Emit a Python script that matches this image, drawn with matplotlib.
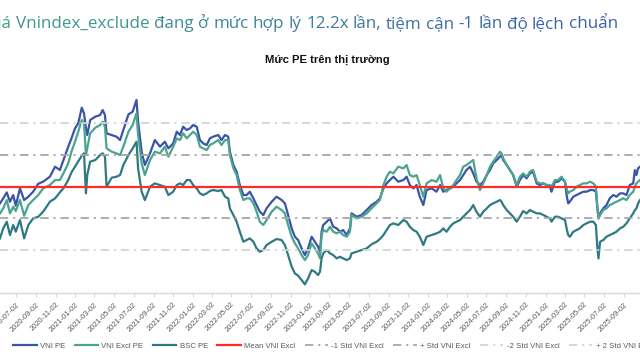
import matplotlib
matplotlib.use("Agg")
import matplotlib.pyplot as plt
import matplotlib.dates as mdates
import pandas as pd
import numpy as np
from matplotlib import font_manager as fm

# ---------------- data ----------------
DATES = [
    "2020-05-13", "2020-05-23", "2020-06-03", "2020-06-13", "2020-06-23", "2020-07-01", "2020-07-14", "2020-07-27",
    "2020-08-09", "2020-08-24", "2020-09-09", "2020-09-24", "2020-10-15", "2020-10-31", "2020-11-15", "2020-11-26",
    "2020-12-11", "2020-12-21", "2021-01-01", "2021-01-11", "2021-01-22", "2021-01-29", "2021-02-04", "2021-02-08",
    "2021-02-17", "2021-03-05", "2021-03-20", "2021-03-28", "2021-04-04", "2021-04-09", "2021-04-25", "2021-05-10",
    "2021-05-21", "2021-05-31", "2021-06-16", "2021-06-29", "2021-07-11", "2021-07-16", "2021-07-27", "2021-08-06",
    "2021-08-22", "2021-09-06", "2021-09-22",
    "2021-10-07", "2021-10-18", "2021-11-02", "2021-11-13", "2021-11-23", "2021-12-03", "2021-12-14", "2021-12-24",
    "2022-01-03", "2022-01-14", "2022-01-24", "2022-02-03", "2022-02-14", "2022-02-24", "2022-03-06", "2022-03-22",
    "2022-04-01", "2022-04-12", "2022-04-22", "2022-04-27", "2022-05-08", "2022-05-18", "2022-05-28", "2022-06-08",
    "2022-06-18", "2022-06-28", "2022-07-09", "2022-07-19", "2022-07-29", "2022-08-09", "2022-08-19", "2022-09-04",
    "2022-09-19", "2022-10-05", "2022-10-15", "2022-10-25", "2022-11-05", "2022-11-15", "2022-11-25", "2022-12-06",
    "2022-12-16", "2022-12-26", "2023-01-06", "2023-01-16", "2023-01-26",
    "2023-02-01", "2023-02-06", "2023-02-11", "2023-02-22", "2023-03-04", "2023-03-14", "2023-03-25", "2023-04-04",
    "2023-04-14", "2023-04-25", "2023-05-05", "2023-05-10", "2023-05-26", "2023-06-10", "2023-06-26", "2023-07-11",
    "2023-07-27", "2023-08-06", "2023-08-17", "2023-08-27", "2023-09-06", "2023-09-17", "2023-10-02", "2023-10-18",
    "2023-10-28", "2023-11-07", "2023-11-18", "2023-11-28", "2023-12-08", "2023-12-19", "2023-12-29", "2024-01-14",
    "2024-01-29", "2024-02-09", "2024-02-19", "2024-02-29", "2024-03-11", "2024-03-21", "2024-03-31", "2024-04-11",
    "2024-04-21", "2024-05-01", "2024-05-12", "2024-05-22", "2024-06-01",
    "2024-06-12", "2024-06-22", "2024-07-03", "2024-07-13", "2024-07-23", "2024-08-03", "2024-08-13", "2024-08-18",
    "2024-08-23", "2024-09-03", "2024-09-13", "2024-09-23", "2024-10-04", "2024-10-14", "2024-10-24", "2024-11-04",
    "2024-11-14", "2024-11-24", "2024-12-05", "2024-12-15", "2024-12-26", "2025-01-05", "2025-01-15", "2025-01-20",
    "2025-01-31", "2025-02-10", "2025-02-20", "2025-03-03", "2025-03-08", "2025-03-13", "2025-03-18", "2025-03-29",
    "2025-04-08", "2025-04-18", "2025-04-29", "2025-05-09", "2025-05-20", "2025-05-30", "2025-06-07", "2025-06-11",
    "2025-06-15", "2025-06-20", "2025-06-30", "2025-07-10", "2025-07-20", "2025-07-31", "2025-08-10", "2025-08-21",
    "2025-08-31", "2025-09-10", "2025-09-20", "2025-10-01", "2025-10-06", "2025-10-11", "2025-10-16", "2025-10-22",
]

VNI_PE = [
    14.0, 14.3, 14.66, 14.1, 14.5, 13.86, 14.9, 14.2, 14.4, 14.7,
    15.18, 15.3, 15.6, 16.2, 16.0, 16.6, 17.4, 17.9, 18.5, 18.8,
    19.74, 19.4, 18.5, 18.1, 19.0, 19.2, 19.3, 19.6, 19.3, 18.2,
    18.1, 18.0, 17.8, 18.4, 19.34, 19.5, 20.2, 18.9, 17.1, 16.3,
    17.0, 17.8, 17.4,
    17.7, 17.3, 17.6, 18.3, 18.1, 18.6, 18.4, 18.5, 18.7, 18.6,
    17.8, 17.6, 17.5, 17.9, 18.0, 18.1, 17.8, 18.1, 18.0, 17.1,
    16.3, 15.9, 15.1, 14.5, 14.5, 14.7, 14.3, 13.9, 13.5, 13.3,
    13.7, 14.1, 14.4, 14.2, 14.0, 13.3, 12.5, 12.0, 11.8, 11.3,
    10.9, 11.3, 12.0, 11.7, 11.4,
    11.1, 12.3, 12.7, 12.9, 13.1, 12.6, 12.5, 12.3, 12.4, 12.1,
    12.5, 13.4, 13.2, 13.3, 13.6, 13.9, 14.1, 14.3, 14.9, 15.2,
    15.4, 15.6, 15.3, 15.4, 15.6, 15.1, 14.9, 15.1, 14.4, 13.9,
    14.8, 14.9, 14.7, 15.1, 14.7, 14.8, 14.9, 15.0, 15.2, 15.4,
    15.7, 16.0, 16.2, 15.8, 15.3,
    15.1, 15.3, 15.7, 16.0, 16.4, 16.6, 16.8, 16.9, 16.6, 16.3,
    16.0, 15.7, 15.0, 15.4, 15.7, 15.5, 15.8, 15.9, 15.2, 15.1,
    15.2, 15.1, 15.0, 14.7, 15.3, 15.3, 15.5, 15.3, 14.5, 14.0,
    14.1, 14.4, 14.5, 14.6, 14.7, 14.7, 14.8, 14.8, 14.7, 13.9,
    13.1, 13.4, 13.7, 13.9, 14.3, 14.5, 14.4, 14.6, 14.6, 14.5,
    15.1, 15.2, 16.0, 15.7, 16.1, 16.2,
]

VNI_EXCL_PE = [
    13.4, 13.7, 14.2, 13.4, 13.8, 13.54, 14.2, 13.26, 13.9, 14.2,
    14.5, 14.9, 15.1, 15.4, 15.4, 15.8, 16.4, 17.1, 17.7, 18.3,
    19.0, 18.8, 16.9, 17.3, 18.2, 18.54, 18.7, 18.9, 18.6, 17.3,
    17.1, 17.0, 16.9, 17.4, 18.3, 18.7, 19.4, 18.1, 16.4, 15.7,
    16.6, 17.1, 17.0,
    17.4, 16.8, 17.4, 17.9, 17.8, 18.2, 17.9, 18.1, 18.3, 18.1,
    17.4, 17.3, 17.2, 17.5, 17.6, 17.8, 17.5, 17.8, 17.8, 16.9,
    16.1, 15.7, 14.8, 14.2, 14.3, 14.3, 14.0, 13.5, 12.9, 12.7,
    13.0, 13.5, 13.8, 13.6, 13.4, 12.7, 12.0, 11.6, 11.3, 10.9,
    10.6, 10.9, 11.6, 11.3, 11.0,
    10.7, 12.1, 12.4, 12.3, 12.6, 12.3, 12.2, 12.3, 12.1, 12.0,
    12.3, 13.3, 13.1, 13.2, 13.4, 13.7, 14.0, 14.2, 15.1, 15.6,
    15.9, 15.8, 16.2, 16.1, 16.3, 15.7, 15.6, 15.7, 15.1, 14.4,
    15.2, 15.4, 15.3, 15.7, 14.9, 14.7, 14.9, 15.1, 15.4, 15.7,
    16.2, 16.3, 16.46, 16.6, 15.5,
    14.8, 15.2, 15.7, 16.2, 16.5, 16.8, 17.1, 17.0, 16.7, 16.3,
    16.0, 15.7, 15.1, 15.6, 15.8, 15.6, 15.9, 16.0, 15.3, 15.2,
    15.2, 15.1, 15.1, 15.0, 15.4, 15.4, 15.6, 15.3, 14.9, 14.6,
    14.7, 14.8, 15.0, 15.1, 15.2, 15.2, 15.3, 15.2, 15.0, 13.9,
    13.1, 13.3, 13.6, 13.7, 13.9, 14.0, 14.1, 14.2, 14.3, 14.2,
    14.5, 14.7, 15.0, 15.2, 15.3, 15.4,
]

BSC_PE = [
    11.9, 12.5, 12.9, 12.1, 12.7, 12.3, 13.0, 11.9, 12.7, 13.1,
    13.2, 13.5, 14.1, 14.3, 14.66, 14.9, 15.4, 15.86, 16.2, 16.5,
    16.86, 17.0, 14.6, 15.7, 16.5, 16.6, 16.9, 17.0, 16.8, 15.0,
    15.54, 15.6, 15.7, 16.3, 16.9, 17.3, 17.7, 16.1, 14.7, 14.2,
    15.0, 15.2, 15.1,
    15.0, 14.5, 14.7, 15.1, 15.2, 15.1, 15.4, 15.4, 15.1, 14.9,
    14.6, 14.5, 14.6, 14.74, 14.8, 14.74, 14.8, 14.4, 14.3, 13.7,
    13.3, 12.9, 12.3, 11.7, 11.8, 11.9, 11.7, 11.3, 11.1, 11.2,
    11.5, 11.7, 11.86, 11.8, 11.5, 10.9, 10.2, 9.8, 9.66, 9.4,
    9.14, 9.5, 10.0, 9.9, 9.7,
    9.9, 10.7, 11.0, 11.2, 11.0, 10.9, 10.7, 10.8, 10.7, 10.6,
    10.7, 11.0, 11.1, 11.2, 11.3, 11.54, 11.7, 11.86, 12.1, 12.4,
    12.7, 12.8, 12.7, 13.0, 12.9, 12.6, 12.4, 12.3, 12.0, 11.5,
    12.0, 12.1, 12.2, 12.3, 12.5, 12.3, 12.6, 12.8, 12.9, 13.0,
    13.2, 13.4, 13.6, 13.9, 13.5,
    13.2, 13.5, 13.7, 13.9, 14.0, 14.1, 14.2, 14.1, 13.9, 13.6,
    13.4, 13.2, 12.9, 13.2, 13.54, 13.4, 13.6, 13.5, 13.4, 13.4,
    13.3, 13.2, 13.1, 12.9, 13.2, 13.2, 13.1, 13.0, 12.5, 12.1,
    12.0, 12.3, 12.4, 12.5, 12.7, 12.8, 12.9, 12.9, 12.7, 11.5,
    10.7, 11.7, 11.8, 12.0, 12.1, 12.2, 12.3, 12.5, 12.6, 12.8,
    13.1, 13.4, 13.6, 13.7, 14.0, 14.2,
]

MEAN_VNI_EXCL = 15.0
STD_VNI_EXCL = 1.9

SERIES_LABELS = ["VNI PE", "VNI Excl PE", "BSC PE"]
BAND_LABELS = ["Mean VNI Excl", "-1 Std VNI Excl", "+ Std VNI Excl", "-2 Std VNI Excl", "+ 2 Std VNI Excl"]
BAND_MULT = [0, -1, 1, -2, 2]

TITLE = "Định giá Vnindex_exclude đang ở mức hợp lý 12.2x lần, tiệm cận -1 lần độ lệch chuẩn"
SUBTITLE = "Mức PE trên thị trường"

# ---------------- style ----------------
plt.rcParams["lines.scale_dashes"] = False
names = {f.name for f in fm.fontManager.ttflist}
NARROW = "Liberation Sans Narrow" if "Liberation Sans Narrow" in names else "Liberation Sans"
SMALL_FONT = [NARROW, "DejaVu Sans"]
TITLE_FONT = ["Open Sans", "DejaVu Sans"]

C_VNI = "#3a55a6"
C_EXCL = "#4aa48f"
C_BSC = "#2f7a82"
C_MEAN = "#ff2b2b"
C_STD1 = "#a6a6a6"
C_STD2 = "#d4d4d4"
BAND_COLORS = [C_MEAN, C_STD1, C_STD1, C_STD2, C_STD2]
DASH = (0, (6, 3.5, 1.5, 3.5))

fig = plt.figure(figsize=(6.4, 3.6), dpi=100)
H = 360.0
ax = fig.add_axes([0, 1 - 293.4 / H, 1, (293.4 - 70) / H])

dates = pd.to_datetime(DATES)
handles = []
for vals, col, lab in zip([VNI_PE, VNI_EXCL_PE, BSC_PE], [C_VNI, C_EXCL, C_BSC], SERIES_LABELS):
    ln, = ax.plot(dates, vals, color=col, lw=1.6, label=lab, solid_joinstyle="round")
    handles.append(ln)

for k, col, lab in zip(BAND_MULT, BAND_COLORS, BAND_LABELS):
    level = MEAN_VNI_EXCL + k * STD_VNI_EXCL
    if k == 0:
        ln = ax.axhline(level, color=col, lw=1.6, label=lab)
    else:
        ln = ax.axhline(level, color=col, lw=1.3, linestyle=DASH, label=lab)
    handles.append(ln)

ax.set_xlim(pd.Timestamp("2020-05-13"), pd.Timestamp("2025-10-22"))
ax.set_ylim(8.6, 22.0)
ax.set_yticks([])
for s in ["left", "right", "top"]:
    ax.spines[s].set_visible(False)
ax.spines["bottom"].set_color("#d9d9d9")
ax.spines["bottom"].set_linewidth(1.0)
ax.xaxis.set_major_locator(mdates.MonthLocator(bymonth=[1, 3, 5, 7, 9, 11], bymonthday=2))
ax.xaxis.set_major_formatter(mdates.DateFormatter("%Y-%m-%d"))
ax.tick_params(axis="x", length=3, width=0.8, color="#d9d9d9", labelsize=5.4,
               labelcolor="#595959", pad=2.5)
for lab in ax.get_xticklabels():
    lab.set_rotation(45)
    lab.set_ha("right")
    lab.set_rotation_mode("anchor")
    lab.set_family(SMALL_FONT)

leg = fig.legend(handles, [h.get_label() for h in handles], loc="center",
                 bbox_to_anchor=(0.52, 1 - 346 / H), ncol=8, frameon=False,
                 prop={"family": SMALL_FONT, "size": 5.6}, handlelength=3.0,
                 handletextpad=0.45, columnspacing=1.2, labelcolor="#595959")

fig.text(327 / 640, 1 - 60 / H, SUBTITLE, ha="center", va="center", fontsize=8.1,
         fontweight="bold", family=SMALL_FONT, color="#111111")

# ---- title with teal -> blue gradient, word by word ----
r = fig.canvas.get_renderer()


def text_width(s, fs):
    t = fig.text(0, 0, s, fontsize=fs, family=TITLE_FONT)
    w = t.get_window_extent(renderer=r).width
    t.remove()
    return w


vis = TITLE[TITLE.index("iá"):]
fs = 10 * 618 / text_width(vis, 10)
full_w = text_width(TITLE, fs)
space_w = text_width("a a", fs) - text_width("aa", fs)
x = 618 - full_w
c0 = np.array(matplotlib.colors.to_rgb("#3fa08b"))
c1 = np.array(matplotlib.colors.to_rgb("#3b62a8"))
for word in TITLE.split(" "):
    w = text_width(word, fs)
    t = np.clip((x + w / 2) / 560.0, 0, 1)
    col = c0 * (1 - t) + c1 * t
    fig.text(x / 640, 1 - 28 / H, word, fontsize=fs, family=TITLE_FONT, color=col, va="baseline")
    x += w + space_w

fig.savefig("out.png", dpi=100)
